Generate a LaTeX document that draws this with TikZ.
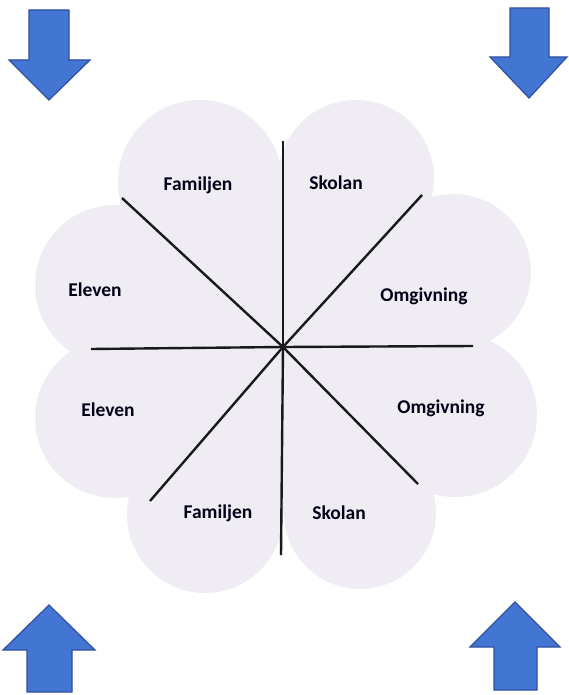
\documentclass[tikz,border=0pt]{standalone}
\usepackage{fontspec}
\setmainfont{Carlito}
\definecolor{petal}{HTML}{EFEDF3}
\definecolor{arrowfill}{HTML}{4375D3}
\definecolor{arrowedge}{HTML}{2F509E}
\begin{document}
\begin{tikzpicture}[x=1pt,y=-1pt,
  spoke/.style={draw=black!90,line width=2.4pt},
  lab/.style={font=\fontsize{19.5}{22}\selectfont\bfseries,text=black!85!blue!60!black,inner sep=0pt},
  blockarrow/.style={fill=arrowfill,draw=arrowedge,line width=1.2pt,line join=miter}]
\useasboundingbox (0,0) rectangle (568,695);
\fill[white] (0,0) rectangle (568,695);
% petals
\foreach \cx/\cy/\r in {200/182/82, 356/178/78, 115/285/80, 453/272/78,
                        115/418/80, 455/415/82, 205/515/78, 360/513/76}
  \fill[petal] (\cx,\cy) circle (\r);
\fill[petal] (200,182) -- (356,178) -- (453,272) -- (455,415) -- (360,513) -- (205,515) -- (115,418) -- (115,285) -- cycle;
% spokes
\coordinate (c) at (283,347);
\coordinate (n) at (283,141);
\coordinate (s) at (281,555);
\coordinate (w) at (91,349);
\coordinate (e) at (473,346);
\coordinate (nw) at (122,198);
\coordinate (ne) at (422,195);
\coordinate (sw) at (150,501);
\coordinate (se) at (418,484);
\foreach \p in {n,s,w,e,nw,ne,sw,se}
  \draw[spoke] (c) -- (\p);
% labels
\node[lab] (fam1) at (198,185) {Familjen};
\node[lab] (sko1) at (336,183) {Skolan};
\node[lab] (ele1) at (95,290) {Eleven};
\node[lab] (omg1) at (424,296) {Omgivning};
\node[lab] (ele2) at (108,410) {Eleven};
\node[lab] (omg2) at (441,408) {Omgivning};
\node[lab] (fam2) at (218,513) {Familjen};
\node[lab] (sko2) at (339,513) {Skolan};
% arrows
\draw[blockarrow] (29,10) -- (69,10) -- (69,60) -- (90,60) -- (49,100) -- (9,60) -- (29,60) -- cycle;
\draw[blockarrow] (510,8) -- (549,8) -- (549,57) -- (567,57) -- (529,98) -- (490,57) -- (510,57) -- cycle;
\draw[blockarrow] (27,692) -- (72,692) -- (72,650) -- (95,650) -- (49,605) -- (3,650) -- (27,650) -- cycle;
\draw[blockarrow] (494,690) -- (537,690) -- (537,647) -- (560,647) -- (515,602) -- (470,647) -- (494,647) -- cycle;
\end{tikzpicture}
\end{document}
